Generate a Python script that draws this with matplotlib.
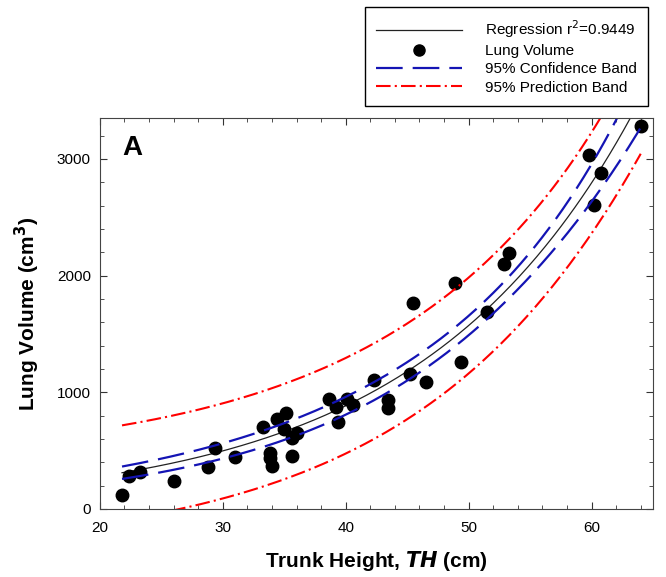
import numpy as np
import matplotlib
matplotlib.use('Agg')
import matplotlib.pyplot as plt

#trunk height (cm) and lung volume (cm^3)
trunk_height = [21.8, 22.4, 23.3, 26.0, 28.8, 29.4, 31.0, 33.3, 33.8, 33.8,
                34.0, 34.4, 35.1, 35.0, 35.6, 36.0, 35.6, 38.6, 39.2, 39.4,
                40.1, 40.6, 42.3, 43.4, 43.4, 45.2, 46.5, 45.5, 49.4, 48.9,
                51.5, 52.9, 53.3, 59.8, 60.8, 60.2, 64.0]
lung_volume = [120, 282, 316, 242, 356, 521, 444, 704, 476, 433,
               370, 769, 826, 689, 604, 647, 456, 940, 874, 746,
               940, 895, 1108, 937, 869, 1160, 1085, 1761, 1259, 1940,
               1684, 2103, 2197, 3032, 2875, 2604, 3282]
r2_label = 'Regression r$^2$=0.9449'
t_value = 2.030  #t(0.975, 35 dof)

x = np.array(trunk_height)
y = np.array(lung_volume)

"""exponential growth fit y = a*exp(b*x), gauss-newton since no scipy"""
b, ln_a = np.polyfit(x, np.log(y), 1)
p = np.array([np.exp(ln_a), b])
for i in range(100):
    e = np.exp(p[1]*x)
    J = np.column_stack([e, p[0]*x*e])
    res = y - p[0]*e
    p = p + np.linalg.lstsq(J, res, rcond=None)[0]

e = np.exp(p[1]*x)
J = np.column_stack([e, p[0]*x*e])
s2 = np.sum((y - p[0]*e)**2)/(len(x) - 2)
cov = s2*np.linalg.inv(J.T @ J)

xx = np.linspace(x.min(), x.max(), 300)
ee = np.exp(p[1]*xx)
G = np.column_stack([ee, p[0]*xx*ee])
yy = p[0]*ee
var_fit = np.einsum('ij,jk,ik->i', G, cov, G)
conf = t_value*np.sqrt(var_fit)
pred = t_value*np.sqrt(var_fit + s2)

plt.rcParams['font.family'] = ['Liberation Sans', 'DejaVu Sans']
fig = plt.figure(figsize=(6.66, 5.77), dpi=100)
ax = fig.add_axes([0.150, 0.1179, 0.8305, 0.6776])

blue = '#1414b4'
l1, = ax.plot(xx, yy, color='#222222', lw=0.9)
l2, = ax.plot(x, y, 'o', color='black', ms=9, ls='none')
l3, = ax.plot(xx, yy + conf, color=blue, lw=1.6, dashes=(12, 4.5))
ax.plot(xx, yy - conf, color=blue, lw=1.6, dashes=(12, 4.5))
l4, = ax.plot(xx, yy + pred, color='red', lw=1.5, dashes=(7, 2, 1, 2))
ax.plot(xx, yy - pred, color='red', lw=1.5, dashes=(7, 2, 1, 2))

ax.set_xlim(20, 65)
ax.set_ylim(0, 3350)
ax.set_xticks([20, 30, 40, 50, 60])
ax.set_xticks(np.arange(20, 65, 2), minor=True)
ax.set_yticks([0, 1000, 2000, 3000])
ax.set_yticks(np.arange(0, 3350, 200), minor=True)
ax.tick_params(which='both', direction='in', top=True, right=True,
               labelsize=11, colors='#333333', labelcolor='black')
ax.tick_params(which='major', length=5)
ax.tick_params(which='minor', length=3)
ax.tick_params(axis='x', which='major', pad=9)
ax.tick_params(axis='y', which='major', pad=6.5)
for s in ax.spines.values():
    s.set_color('#444444')

ax.set_xlabel('Trunk Height, $\\bfit{TH}$ (cm)', fontsize=15, fontweight='bold', labelpad=10)
ax.set_ylabel('Lung Volume (cm$^\\mathbf{3}$)', fontsize=15, fontweight='bold', labelpad=11)
ax.text(0.04, 0.923, 'A', transform=ax.transAxes, fontsize=20, fontweight='bold', va='center')

leg = fig.legend([l1, l2, l3, l4],
                 [r2_label, 'Lung Volume', '95% Confidence Band', '95% Prediction Band'],
                 loc='upper left', bbox_to_anchor=(365/666, 1 - 7/577),
                 fontsize=11, numpoints=1, handlelength=5.6, handletextpad=1.5,
                 labelspacing=0.27, borderpad=0.75, borderaxespad=0, fancybox=False,
                 edgecolor='black', framealpha=1)
leg.get_frame().set_linewidth(1.0)
leg.legend_handles[1].set_markersize(8)

plt.savefig('out.png', dpi=100)
